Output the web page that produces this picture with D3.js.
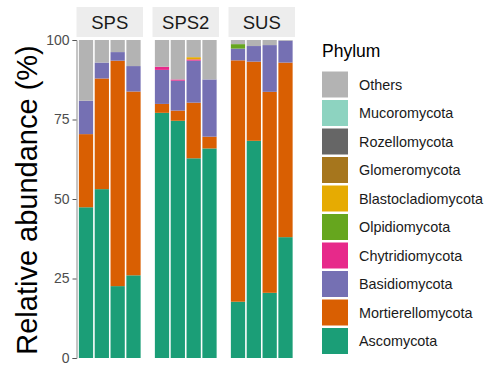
<!DOCTYPE html>
<html>
<head>
<meta charset="utf-8">
<script src="https://cdn.jsdelivr.net/npm/d3@7"></script>
<style>
  html, body { margin: 0; padding: 0; background: #fff; }
  svg { display: block; font-family: "Liberation Sans", Arial, Helvetica, sans-serif; }
</style>
</head>
<body>
<svg id="chart" width="489" height="366"></svg>
<script>
// ---- Data ----
const groups = ["SPS", "SPS2", "SUS"];
const samples = ["SPS_1","SPS_2","SPS_3","SPS_4","SPS2_1","SPS2_2","SPS2_3","SPS2_4","SUS_1","SUS_2","SUS_3","SUS_4"];
const sampleGroup = ["SPS","SPS","SPS","SPS","SPS2","SPS2","SPS2","SPS2","SUS","SUS","SUS","SUS"];
const phyla = ["Others","Mucoromycota","Rozellomycota","Glomeromycota","Blastocladiomycota","Olpidiomycota","Chytridiomycota","Basidiomycota","Mortierellomycota","Ascomycota"];
const phylumColors = ["#B3B3B3","#8DD3C0","#666666","#A6761D","#E6AB02","#66A61E","#E7298A","#7570B3","#D95F02","#1B9E77"];

const ascomycota        = [47.4, 53.1, 22.6, 26.0, 77.1, 74.6, 62.8, 65.9, 17.7, 68.3, 20.5, 38.0];
const mortierellomycota = [23.0, 34.8, 70.9, 57.8,  2.8,  3.2, 17.5,  3.7, 75.9, 24.9, 63.2, 54.9];
const basidiomycota     = [10.5,  5.0,  2.7,  8.0, 10.7,  9.4, 13.2, 18.0,  3.7,  4.9, 14.7,  6.9];
const chytridiomycota   = [ 0.0,  0.0,  0.0,  0.0,  1.0,  0.4,  0.4,  0.0,  0.0,  0.0,  0.0,  0.0];
const olpidiomycota     = [ 0.0,  0.0,  0.0,  0.0,  0.0,  0.0,  0.0,  0.0,  1.4,  0.0,  0.0,  0.0];
const blastocladiomycota= [ 0.0,  0.0,  0.0,  0.0,  0.0,  0.0,  0.7,  0.0,  0.0,  0.0,  0.0,  0.0];
const glomeromycota     = [ 0.0,  0.0,  0.0,  0.0,  0.0,  0.0,  0.0,  0.0,  0.0,  0.0,  0.0,  0.0];
const rozellomycota     = [ 0.0,  0.0,  0.0,  0.0,  0.0,  0.0,  0.0,  0.0,  0.0,  0.0,  0.0,  0.0];
const mucoromycota      = [ 0.0,  0.0,  0.0,  0.0,  0.0,  0.0,  0.0,  0.0,  0.0,  0.0,  0.0,  0.0];
const others            = [19.1,  7.1,  3.8,  8.2,  8.4, 12.4,  5.4, 12.4,  1.3,  1.9,  1.6,  0.2];
const yTicks = [0, 25, 50, 75, 100];
const yTickLabels = ["0", "25", "50", "75", "100"];

// ---- Build table ----
const seriesByPhylum = {
  "Others": others, "Mucoromycota": mucoromycota, "Rozellomycota": rozellomycota,
  "Glomeromycota": glomeromycota, "Blastocladiomycota": blastocladiomycota,
  "Olpidiomycota": olpidiomycota, "Chytridiomycota": chytridiomycota,
  "Basidiomycota": basidiomycota, "Mortierellomycota": mortierellomycota, "Ascomycota": ascomycota
};
const rows = samples.map((s, i) => {
  const r = { sample: s, group: sampleGroup[i] };
  phyla.forEach(p => r[p] = seriesByPhylum[p][i]);
  return r;
});
// stack from bottom (Ascomycota) to top (Others)
const stackKeys = phyla.slice().reverse();
const stacked = d3.stack().keys(stackKeys)(rows);
const color = d3.scaleOrdinal().domain(phyla).range(phylumColors);

// ---- Layout ----
const svg = d3.select("#chart");
const panelTop = 40, panelBottom = 358;
const panelLeft0 = 76.5, panelW = 66.5, panelStep = 76;
const stripTop = 7, stripH = 30;

const y = d3.scaleLinear().domain([0, 100]).range([panelBottom, panelTop]);
const gx = d3.scaleBand().domain(groups)
  .range([panelLeft0, panelLeft0 + panelStep * groups.length]).paddingInner(0).paddingOuter(0);

groups.forEach((g, gi) => {
  const x0 = gx(g);
  const gSamples = samples.filter((s, i) => sampleGroup[i] === g);
  // ggplot-like discrete scale: expand 0.6, bar width 0.9
  const xs = d3.scaleLinear().domain([0.4, gSamples.length + 0.6]).range([x0, x0 + panelW]);
  const pg = svg.append("g");

  // strip
  pg.append("rect").attr("x", x0).attr("y", stripTop).attr("width", panelW).attr("height", stripH)
    .attr("fill", "#EDEDED");
  pg.append("text").attr("x", x0 + panelW / 2).attr("y", stripTop + stripH / 2)
    .attr("dy", "0.36em").attr("text-anchor", "middle")
    .attr("font-size", 18.5).attr("fill", "#1A1A1A").text(g);

  stacked.forEach(layer => {
    pg.selectAll(null)
      .data(layer.filter(d => d.data.group === g))
      .join("rect")
      .attr("x", (d, i) => xs(i + 1 - 0.45))
      .attr("width", (d, i) => xs(i + 1 + 0.45) - xs(i + 1 - 0.45))
      .attr("y", d => y(d[1]))
      .attr("height", d => Math.max(0, y(d[0]) - y(d[1])))
      .attr("fill", color(layer.key));
  });
});

// ---- Y axis (left panel only) ----
const yAxis = d3.axisLeft(y).tickValues(yTicks).tickFormat((d, i) => yTickLabels[i])
  .tickSize(4).tickPadding(3);
const ya = svg.append("g").attr("transform", `translate(${panelLeft0},0)`).call(yAxis);
ya.select(".domain").attr("stroke", "#8C8C8C").attr("stroke-width", 1);
ya.selectAll(".tick line").attr("stroke", "#555");
ya.selectAll(".tick text").attr("font-size", 14).attr("fill", "#4D4D4D")
  .attr("font-family", "Liberation Sans, Arial, sans-serif");

svg.append("text")
  .attr("transform", `translate(27,${(panelTop + panelBottom) / 2 + 1}) rotate(-90)`)
  .attr("text-anchor", "middle").attr("dy", "0.36em")
  .attr("font-size", 29).attr("fill", "#000").text("Relative abundance (%)");

// ---- Legend ----
const lg = svg.append("g").attr("transform", "translate(322,0)");
lg.append("text").attr("x", 0).attr("y", 57).attr("font-size", 17.5).attr("fill", "#000").text("Phylum");
const keyY0 = 71.5, keyStep = 28.5, keySize = 26;
const items = lg.selectAll(".item").data(phyla).join("g").attr("class", "item")
  .attr("transform", (d, i) => `translate(0,${keyY0 + i * keyStep})`);
items.append("rect").attr("width", keySize).attr("height", keySize).attr("fill", d => color(d));
items.append("text").attr("x", 37).attr("y", keySize / 2).attr("dy", "0.36em")
  .attr("font-size", 14.4).attr("fill", "#1A1A1A").text(d => d);
</script>
</body>
</html>
